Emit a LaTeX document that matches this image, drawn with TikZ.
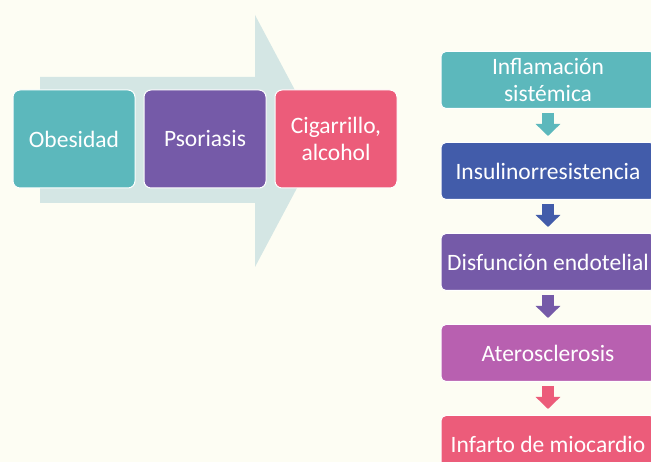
\documentclass[tikz,border=0pt]{standalone}
\usepackage{fontspec}
\setmainfont{Carlito}
\usepackage{tikz}
\usetikzlibrary{positioning,arrows.meta}
\definecolor{bgCream}{RGB}{253,253,243}
\definecolor{bigArrow}{RGB}{212,230,228}
\definecolor{cbTeal}{RGB}{92,184,188}
\definecolor{cbBlue}{RGB}{66,92,170}
\definecolor{cbPurple}{RGB}{117,90,168}
\definecolor{cbOrchid}{RGB}{184,96,176}
\definecolor{cbPink}{RGB}{236,92,122}

\begin{document}
\begin{tikzpicture}[x=1pt, y=-1pt]%
  \tikzset{cause box/.style={draw=white, line width=1pt, rounded corners=7pt, text=white,
      minimum width=122pt, minimum height=98pt, align=center, font=\fontsize{23.5}{27}\selectfont, inner sep=2pt},
    chain box/.style={draw=white, line width=1pt, rounded corners=5pt, text=white,
      minimum width=214pt, minimum height=57pt, align=center, font=\fontsize{23.5}{27}\selectfont, inner sep=1pt},
    down arrow/.style={line width=12pt, -{Triangle[width=24pt,length=12pt]}, shorten <=4pt, shorten >=6pt}}

  \useasboundingbox (0,0) rectangle (651,462);
  \clip (0,0) rectangle (651,462);
  \fill[bgCream] (0,0) rectangle (651,462);

  % big background arrow
  \fill[bigArrow] (40,77) -- (255,77) -- (255,15) -- (322,141) -- (255,267) -- (255,203) -- (40,203) -- cycle;

  \node[cause box, fill=cbTeal] at (74,139) (obes) {Obesidad};
  \node[cause box, fill=cbPurple, right=8pt of obes] (psor) {Psoriasis};
  \node[cause box, fill=cbPink, right=8pt of psor] (cig) {Cigarrillo,\\alcohol};

  \node[chain box, fill=cbTeal] at (548,80) (infl) {Inflamación\\sistémica};
  \node[chain box, fill=cbBlue, below=33pt of infl] (insu) {Insulinorresistencia};
  \node[chain box, fill=cbPurple, below=33pt of insu] (disf) {Disfunción endotelial};
  \node[chain box, fill=cbOrchid, below=33pt of disf] (ater) {Aterosclerosis};
  \node[chain box, fill=cbPink, below=33pt of ater] (infa) {Infarto de miocardio};

  \draw[down arrow, cbTeal] (infl) -- (insu);
  \draw[down arrow, cbBlue] (insu) -- (disf);
  \draw[down arrow, cbPurple] (disf) -- (ater);
  \draw[down arrow, cbPink] (ater) -- (infa);

\end{tikzpicture}
\end{document}
